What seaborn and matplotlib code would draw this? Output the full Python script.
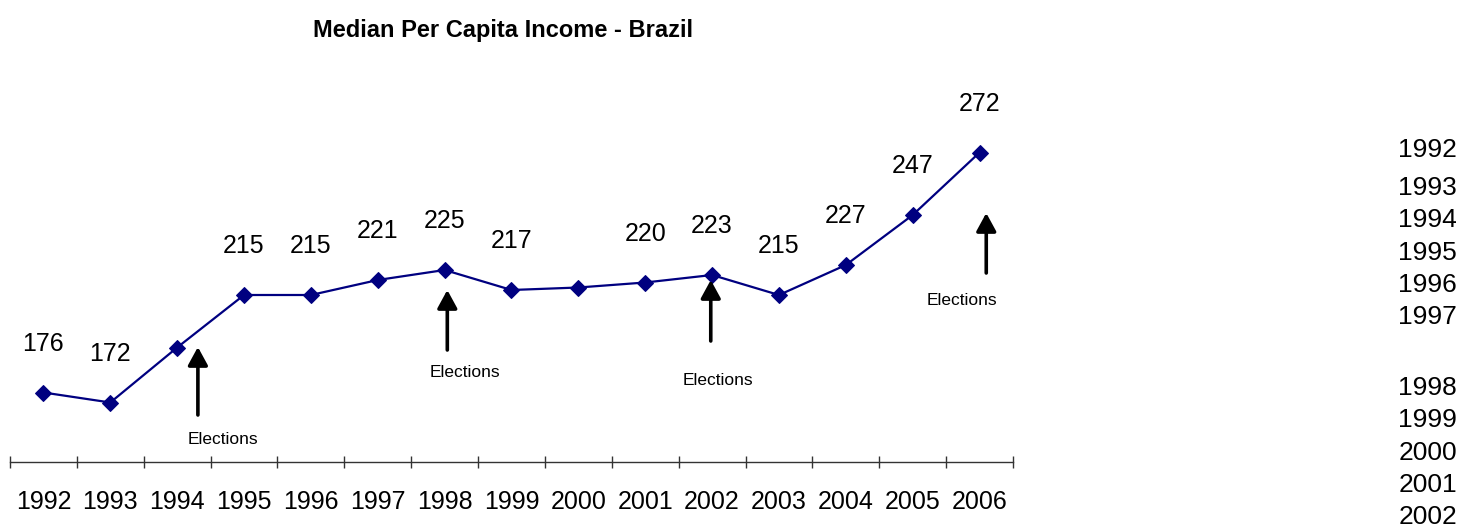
import matplotlib
matplotlib.use("Agg")
import matplotlib.pyplot as plt
import seaborn as sns
import numpy as np
import pandas as pd
from matplotlib import font_manager

years = ["1992", "1993", "1994", "1995", "1996", "1997", "1998", "1999",
         "2000", "2001", "2002", "2003", "2004", "2005", "2006"]
income = [176, 172, 194, 215, 215, 221, 225, 217, 218, 220, 223, 215, 227, 247, 272]
value_labels = ["176", "172", "", "215", "215", "221", "225", "217",
                "", "220", "223", "215", "227", "247", "272"]

election_years = ["1994", "1998", "2002", "2006"]
# arrow (x position in category units, tail y, head y), text position
election_arrows = [(2.31, 167, 194.2), (6.04, 193, 217), (9.98, 196.6, 221), (14.1, 223.8, 247.8)]
election_text = [(2.69, 157), (6.31, 184.2), (10.08, 181), (13.74, 213)]

side_years = ["1992", "1993", "1994", "1995", "1996", "1997",
              "1998", "1999", "2000", "2001", "2002"]
side_y_px = [150, 188, 220, 253, 285, 317, 388, 420, 453, 485, 517]

sns.set_style("white")

def pick(fams):
    avail = {f.name for f in font_manager.fontManager.ttflist}
    for f in fams:
        if f in avail:
            return f
    return "DejaVu Sans"

narrow = pick(["Liberation Sans Narrow", "Liberation Sans", "DejaVu Sans"])
regular = pick(["Liberation Sans", "DejaVu Sans"])
plt.rcParams["font.family"] = [regular, "DejaVu Sans"]
plt.rcParams["text.color"] = "black"
plt.rcParams["xtick.color"] = "black"

W, H = 1463, 530
fig = plt.figure(figsize=(W / 100, H / 100), dpi=100)
ax = fig.add_axes([10 / W, 1 - 462 / H, 1003 / W, 372 / H])

df = pd.DataFrame({"pos": np.arange(len(years)), "income": income, "year": years})
sns.lineplot(data=df, x="pos", y="income", ax=ax, color="#000080",
             marker="D", markersize=8.3, markeredgecolor="#000080",
             linewidth=1.6, legend=False)

for i, lab in enumerate(value_labels):
    if lab:
        ax.annotate(lab, (i, income[i]), xytext=(0, 35), textcoords="offset points",
                    ha="center", va="center", fontsize=18, family=narrow, color="black")

for (x, y0, y1), (tx, ty) in zip(election_arrows, election_text):
    ax.annotate("", xy=(x, y1), xytext=(x, y0),
                arrowprops=dict(arrowstyle="-|>,head_length=1.1,head_width=0.6",
                                color="black", lw=2.6, shrinkA=0, shrinkB=0))
    ax.text(tx, ty, "Elections", ha="center", va="center", fontsize=12.5,
            family=regular, color="black")

ax.set_xlim(-0.5, len(years) - 0.5)
ax.set_ylim(148.2, 297)
ax.set_xlabel("")
ax.set_ylabel("")
ax.set_yticks([])

ax.set_xticks(np.arange(len(years)))
ax.set_xticklabels(years, fontsize=18, family=narrow, color="black")
ax.tick_params(axis="x", which="major", length=0, pad=20)
ax.set_xticks(np.arange(-0.5, len(years)), minor=True)
ax.tick_params(axis="x", which="minor", bottom=True, direction="inout", length=9,
               width=1.0, color="#333333")

for s in ["top", "right", "left"]:
    ax.spines[s].set_visible(False)
ax.spines["bottom"].set_color("#333333")
ax.spines["bottom"].set_linewidth(1.0)

fig.text(503 / W, 1 - 31 / H, "Median Per Capita Income - Brazil", ha="center", va="center",
         fontsize=17, fontweight="bold", family=narrow, color="black")

for yr, ypx in zip(side_years, side_y_px):
    fig.text(1457 / W, 1 - ypx / H, yr, ha="right", va="center", fontsize=19,
             family=regular, color="black")

fig.savefig("out.png", dpi=100)
